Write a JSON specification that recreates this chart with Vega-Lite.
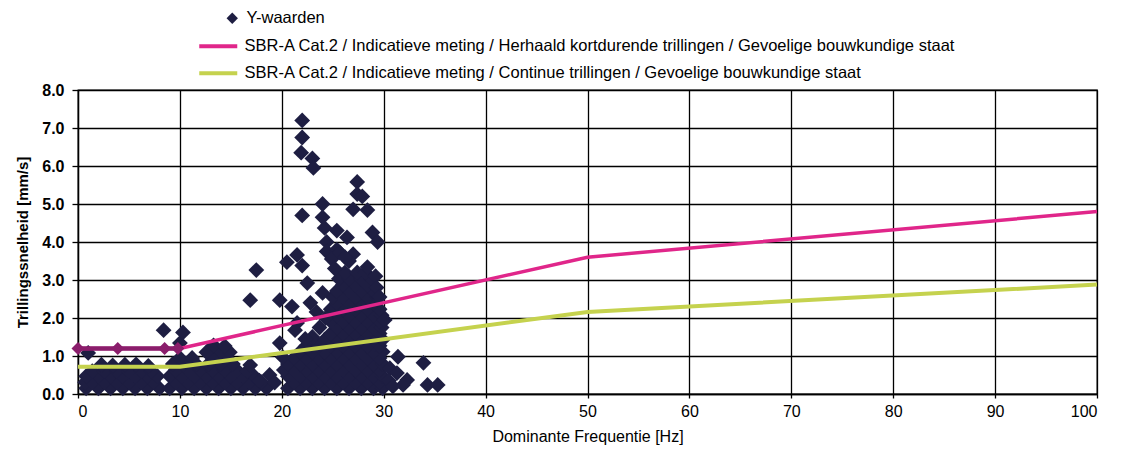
{
  "$schema": "https://vega.github.io/schema/vega-lite/v6.json",
  "width": 1019,
  "height": 304,
  "autosize": "none",
  "padding": {"left": 78, "top": 90, "right": 33, "bottom": 72},
  "background": "white",
  "config": {
    "font": "Liberation Sans",
    "view": {"stroke": "black", "strokeWidth": 1.3},
    "axis": {
      "grid": true, "gridColor": "black", "gridWidth": 1.3, "gridOpacity": 1,
      "domainColor": "black", "domainWidth": 1.3, "tickColor": "black", "tickWidth": 1.3,
      "labelFont": "Liberation Sans", "titleFont": "Liberation Sans",
      "labelColor": "black", "titleColor": "black", "labelFontSize": 16, "titleFontSize": 16,
      "labelOverlap": false
    },
    "legend": {"labelFont": "Liberation Sans", "labelFontSize": 16.5, "labelColor": "black", "labelLimit": 1200, "title": null}
  },
  "datasets": {
    "pts": [
      {"f":0.8,"v":0.15},{"f":2.0,"v":0.15},{"f":3.2,"v":0.15},{"f":4.4,"v":0.15},{"f":5.6,"v":0.15},{"f":6.8,"v":0.15},{"f":8.0,"v":0.15},
      {"f":0.7,"v":0.31},{"f":1.4,"v":0.31},{"f":2.6,"v":0.31},{"f":3.8,"v":0.31},{"f":5.0,"v":0.31},{"f":6.2,"v":0.31},{"f":7.4,"v":0.31},
      {"f":0.8,"v":0.47},{"f":2.0,"v":0.47},{"f":3.2,"v":0.47},{"f":4.4,"v":0.47},{"f":5.6,"v":0.47},{"f":6.8,"v":0.47},{"f":7.8,"v":0.47},
      {"f":1.4,"v":0.6},{"f":2.6,"v":0.6},{"f":3.8,"v":0.6},{"f":5.0,"v":0.6},{"f":6.2,"v":0.6},{"f":7.2,"v":0.6},
      {"f":2.3,"v":0.77},{"f":3.4,"v":0.75},{"f":4.6,"v":0.77},{"f":5.7,"v":0.78},{"f":6.9,"v":0.74},
      {"f":1.0,"v":1.08},{"f":8.4,"v":1.68},
      {"f":9.0,"v":0.15},{"f":10.2,"v":0.15},{"f":11.4,"v":0.15},{"f":12.6,"v":0.15},{"f":13.8,"v":0.15},{"f":15.0,"v":0.15},{"f":16.2,"v":0.15},{"f":17.4,"v":0.15},{"f":18.5,"v":0.15},
      {"f":9.6,"v":0.31},{"f":10.8,"v":0.31},{"f":12.0,"v":0.31},{"f":13.2,"v":0.31},{"f":14.4,"v":0.31},{"f":15.6,"v":0.31},{"f":16.8,"v":0.31},{"f":18.0,"v":0.31},
      {"f":9.0,"v":0.47},{"f":10.2,"v":0.47},{"f":11.4,"v":0.47},{"f":12.6,"v":0.47},{"f":13.8,"v":0.47},{"f":15.0,"v":0.47},{"f":16.2,"v":0.47},{"f":17.3,"v":0.47},
      {"f":9.6,"v":0.63},{"f":10.8,"v":0.63},{"f":12.0,"v":0.63},{"f":13.2,"v":0.63},{"f":14.4,"v":0.63},{"f":15.6,"v":0.63},{"f":16.6,"v":0.6},
      {"f":9.3,"v":0.79},{"f":10.4,"v":0.79},{"f":11.6,"v":0.79},{"f":12.8,"v":0.79},{"f":14.0,"v":0.79},{"f":15.2,"v":0.79},
      {"f":10.0,"v":0.95},{"f":11.2,"v":0.95},{"f":13.4,"v":0.95},{"f":14.6,"v":0.95},
      {"f":12.6,"v":1.1},{"f":14.0,"v":1.12},{"f":14.9,"v":1.1},{"f":13.3,"v":1.28},{"f":14.4,"v":1.26},
      {"f":10.0,"v":1.34},{"f":10.3,"v":1.62},{"f":16.9,"v":0.76},{"f":18.8,"v":0.5},{"f":17.8,"v":0.35},{"f":19.3,"v":0.3},
      {"f":20.6,"v":0.15},{"f":21.8,"v":0.15},{"f":23.0,"v":0.15},{"f":24.2,"v":0.15},{"f":25.4,"v":0.15},{"f":26.6,"v":0.15},{"f":27.8,"v":0.15},{"f":29.0,"v":0.15},{"f":29.9,"v":0.15},
      {"f":21.2,"v":0.31},{"f":22.4,"v":0.31},{"f":23.6,"v":0.31},{"f":24.8,"v":0.31},{"f":26.0,"v":0.31},{"f":27.2,"v":0.31},{"f":28.4,"v":0.31},{"f":29.6,"v":0.31},
      {"f":20.6,"v":0.47},{"f":21.8,"v":0.47},{"f":23.0,"v":0.47},{"f":24.2,"v":0.47},{"f":25.4,"v":0.47},{"f":26.6,"v":0.47},{"f":27.8,"v":0.47},{"f":29.0,"v":0.47},{"f":29.9,"v":0.47},
      {"f":20.2,"v":0.63},{"f":21.2,"v":0.63},{"f":22.4,"v":0.63},{"f":23.6,"v":0.63},{"f":24.8,"v":0.63},{"f":26.0,"v":0.63},{"f":27.2,"v":0.63},{"f":28.4,"v":0.63},{"f":29.6,"v":0.63},
      {"f":20.6,"v":0.79},{"f":21.8,"v":0.79},{"f":23.0,"v":0.79},{"f":24.2,"v":0.79},{"f":25.4,"v":0.79},{"f":26.6,"v":0.79},{"f":27.8,"v":0.79},{"f":29.0,"v":0.79},{"f":29.9,"v":0.79},
      {"f":21.2,"v":0.95},{"f":22.4,"v":0.95},{"f":23.6,"v":0.95},{"f":24.8,"v":0.95},{"f":26.0,"v":0.95},{"f":27.2,"v":0.95},{"f":28.4,"v":0.95},{"f":29.6,"v":0.95},
      {"f":21.8,"v":1.11},{"f":23.0,"v":1.11},{"f":24.2,"v":1.11},{"f":25.4,"v":1.11},{"f":26.6,"v":1.11},{"f":27.8,"v":1.11},{"f":29.0,"v":1.11},{"f":29.9,"v":1.11},
      {"f":22.4,"v":1.27},{"f":23.6,"v":1.27},{"f":24.8,"v":1.27},{"f":26.0,"v":1.27},{"f":27.2,"v":1.27},{"f":28.4,"v":1.27},{"f":29.6,"v":1.27},
      {"f":24.2,"v":1.43},{"f":25.4,"v":1.43},{"f":26.6,"v":1.43},{"f":27.8,"v":1.43},{"f":29.0,"v":1.43},{"f":29.9,"v":1.43},
      {"f":24.8,"v":1.59},{"f":26.0,"v":1.59},{"f":27.2,"v":1.59},{"f":28.4,"v":1.59},{"f":29.6,"v":1.59},
      {"f":25.4,"v":1.75},{"f":26.6,"v":1.75},{"f":27.8,"v":1.75},{"f":29.0,"v":1.75},{"f":29.8,"v":1.75},
      {"f":24.8,"v":1.91},{"f":26.0,"v":1.91},{"f":27.2,"v":1.91},{"f":28.4,"v":1.91},{"f":29.6,"v":1.91},
      {"f":25.4,"v":2.07},{"f":26.6,"v":2.07},{"f":27.8,"v":2.07},{"f":29.0,"v":2.07},{"f":29.8,"v":2.07},
      {"f":24.8,"v":2.23},{"f":26.0,"v":2.23},{"f":27.2,"v":2.23},{"f":28.4,"v":2.23},{"f":29.6,"v":2.23},
      {"f":25.4,"v":2.39},{"f":26.6,"v":2.39},{"f":27.8,"v":2.39},{"f":29.0,"v":2.39},
      {"f":25.0,"v":2.55},{"f":26.0,"v":2.55},{"f":27.2,"v":2.55},{"f":28.4,"v":2.55},{"f":29.4,"v":2.55},
      {"f":25.4,"v":2.71},{"f":26.6,"v":2.71},{"f":27.8,"v":2.71},{"f":29.0,"v":2.71},
      {"f":26.0,"v":2.87},{"f":27.2,"v":2.87},{"f":28.4,"v":2.87},
      {"f":25.6,"v":3.03},{"f":26.6,"v":3.03},{"f":27.8,"v":3.03},{"f":28.8,"v":3.03},
      {"f":26.2,"v":3.2},{"f":27.4,"v":3.2},{"f":28.2,"v":3.2},
      {"f":22.0,"v":7.2},{"f":22.0,"v":6.75},{"f":21.9,"v":6.35},{"f":23.0,"v":6.2},{"f":23.1,"v":5.95},
      {"f":27.4,"v":5.58},{"f":27.4,"v":5.26},{"f":27.9,"v":5.2},{"f":27.0,"v":4.86},{"f":28.4,"v":4.84},
      {"f":24.0,"v":5.0},{"f":24.0,"v":4.65},{"f":22.0,"v":4.7},{"f":24.2,"v":4.37},{"f":25.4,"v":4.3},{"f":26.4,"v":4.12},
      {"f":28.9,"v":4.25},{"f":29.4,"v":4.0},{"f":24.4,"v":4.0},{"f":24.4,"v":3.75},{"f":25.4,"v":3.8},
      {"f":21.5,"v":3.66},{"f":20.5,"v":3.47},{"f":22.0,"v":3.38},{"f":24.9,"v":3.55},{"f":25.7,"v":3.72},{"f":27.0,"v":3.68},
      {"f":26.6,"v":3.5},{"f":28.4,"v":3.34},{"f":29.2,"v":3.1},{"f":25.2,"v":3.3},{"f":26.2,"v":3.6},
      {"f":17.5,"v":3.26},{"f":22.5,"v":2.92},{"f":24.0,"v":2.66},{"f":16.9,"v":2.47},{"f":19.8,"v":2.47},
      {"f":21.0,"v":2.3},{"f":22.8,"v":2.4},{"f":23.4,"v":2.16},{"f":21.5,"v":1.87},{"f":21.3,"v":1.68},
      {"f":23.0,"v":1.5},{"f":23.7,"v":1.75},{"f":24.3,"v":2.0},{"f":22.3,"v":1.45},
      {"f":19.8,"v":1.34},{"f":20.1,"v":0.97},{"f":29.3,"v":2.8},{"f":29.6,"v":2.55},{"f":30.1,"v":1.95},
      {"f":31.4,"v":0.98},{"f":30.6,"v":0.68},{"f":31.3,"v":0.55},{"f":32.3,"v":0.37},{"f":31.9,"v":0.24},
      {"f":33.9,"v":0.82},{"f":34.3,"v":0.24},{"f":35.3,"v":0.24},{"f":30.5,"v":0.35},{"f":30.9,"v":0.2}
    ],
    "lines": [
      {"f":0,"v":1.2,"s":"SBR-A Cat.2 / Indicatieve meting / Herhaald kortdurende trillingen / Gevoelige bouwkundige staat"},
      {"f":10,"v":1.2,"s":"SBR-A Cat.2 / Indicatieve meting / Herhaald kortdurende trillingen / Gevoelige bouwkundige staat"},
      {"f":50,"v":3.6,"s":"SBR-A Cat.2 / Indicatieve meting / Herhaald kortdurende trillingen / Gevoelige bouwkundige staat"},
      {"f":100,"v":4.8,"s":"SBR-A Cat.2 / Indicatieve meting / Herhaald kortdurende trillingen / Gevoelige bouwkundige staat"},
      {"f":0,"v":0.72,"s":"SBR-A Cat.2 / Indicatieve meting / Continue trillingen / Gevoelige bouwkundige staat"},
      {"f":10,"v":0.72,"s":"SBR-A Cat.2 / Indicatieve meting / Continue trillingen / Gevoelige bouwkundige staat"},
      {"f":50,"v":2.16,"s":"SBR-A Cat.2 / Indicatieve meting / Continue trillingen / Gevoelige bouwkundige staat"},
      {"f":100,"v":2.88,"s":"SBR-A Cat.2 / Indicatieve meting / Continue trillingen / Gevoelige bouwkundige staat"}
    ],
    "low": [
      {"f":0,"v":1.2},{"f":3.9,"v":1.2},{"f":8.5,"v":1.2},{"f":9.8,"v":1.2}
    ]
  },
  "encoding": {
    "x": {"field": "f", "type": "quantitative", "scale": {"domain": [0, 100], "nice": false, "zero": false},
      "axis": {"title": "Dominante Frequentie [Hz]", "values": [0,10,20,30,40,50,60,70,80,90,100], "labelPadding": 5, "tickSize": 4, "titlePadding": 9, "titleFontWeight": "normal", "labelFontWeight": "normal"}},
    "y": {"field": "v", "type": "quantitative", "scale": {"domain": [0, 8], "nice": false},
      "axis": {"title": "Trillingssnelheid [mm/s]", "values": [0,1,2,3,4,5,6,7,8], "format": ".1f", "labelFontWeight": "bold", "titleFontWeight": "bold", "titleFontSize": 15, "tickSize": 6, "labelPadding": 8, "titleX": -48}}
  },
  "layer": [
    {
      "data": {"name": "pts"},
      "mark": {"type": "point", "shape": "diamond", "filled": true, "size": 250, "opacity": 1, "strokeWidth": 0},
      "encoding": {
        "fill": {"datum": "Y-waarden", "type": "nominal",
          "scale": {"domain": ["Y-waarden"], "range": ["#1e1e42"]},
          "legend": {"title": null, "orient": "none", "legendX": 146, "legendY": -80, "symbolSize": 130, "symbolType": "diamond", "labelOffset": 6}
        }
      }
    },
    {
      "data": {"name": "lines"},
      "transform": [{"filter": "indexof(datum.s, 'Continue') >= 0"}],
      "mark": {"type": "line", "strokeWidth": 4},
      "encoding": {
        "stroke": {"field": "s", "type": "nominal",
          "scale": {
            "domain": ["SBR-A Cat.2 / Indicatieve meting / Herhaald kortdurende trillingen / Gevoelige bouwkundige staat",
              "SBR-A Cat.2 / Indicatieve meting / Continue trillingen / Gevoelige bouwkundige staat"],
            "range": ["#e0268a", "#c5d24e"]
          },
          "legend": {"title": null, "orient": "none", "legendX": 148, "legendY": -52, "symbolSize": 100, "symbolType": "M-7,0H0.6", "symbolStrokeWidth": 4, "labelOffset": 2, "rowPadding": 10}
        }
      }
    },
    {
      "data": {"name": "lines"},
      "transform": [{"filter": "indexof(datum.s, 'Herhaald') >= 0"}],
      "mark": {"type": "line", "strokeWidth": 3.5},
      "encoding": {
        "stroke": {"field": "s", "type": "nominal"}
      }
    },
    {
      "data": {"name": "low"},
      "mark": {"type": "line", "color": "#8a1d6b", "strokeWidth": 4.5, "point": {"shape": "diamond", "filled": true, "size": 170, "color": "#8a1d6b"}},
      "encoding": {}
    }
  ]
}
